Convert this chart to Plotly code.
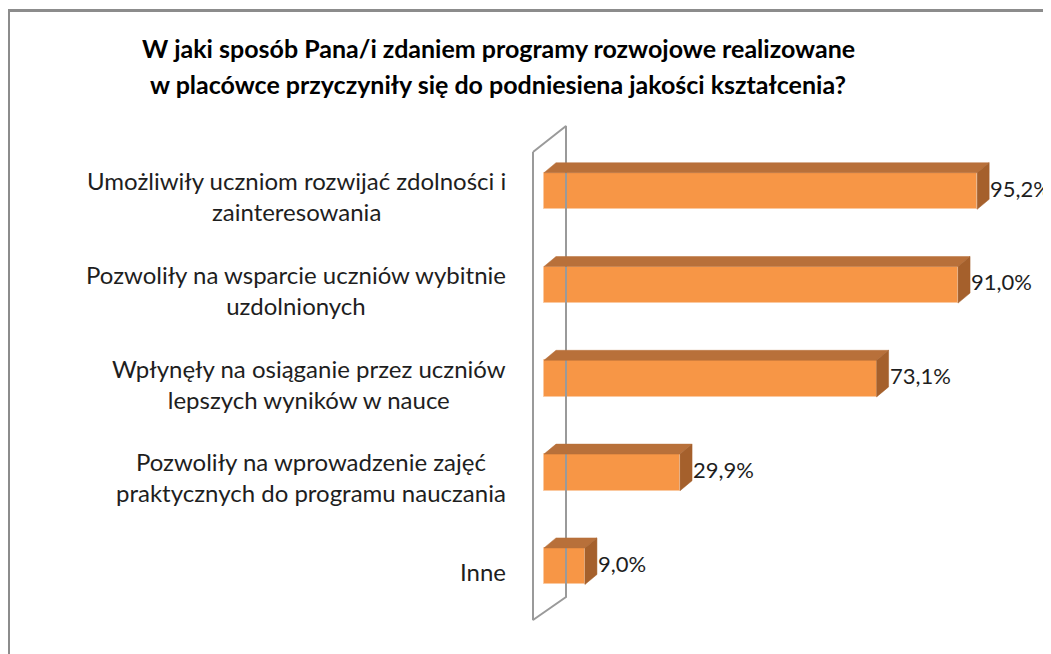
import plotly.graph_objects as go

categories = [
    "Umożliwiły uczniom rozwijać zdolności i<br>zainteresowania",
    "Pozwoliły na wsparcie uczniów wybitnie<br>uzdolnionych",
    "Wpłynęły na osiąganie przez uczniów<br>lepszych wyników w nauce",
    "Pozwoliły na wprowadzenie zajęć<br>praktycznych do programu nauczania",
    "Inne",
]
values = [95.2, 91.0, 73.1, 29.9, 9.0]
title_lines = [
    "W jaki sposób Pana/i zdaniem programy rozwojowe realizowane",
    "w placówce przyczyniły się do podniesiena jakości kształcenia?",
]

W, H = 1051, 654
OFF = 8  # page body margin of the browser
# plot area in screen pixels
SL, SR, ST, SB = 520, 1040, 100, 640
PL, PR, PT, PB = SL - OFF, SR - OFF, ST - OFF, SB - OFF
X0PX, XSCALE = 544, 4.55      # screen px of value 0, px per percent
Y0PX, YSTEP = 191, 93.8       # screen px of first category centre, px per category

def px_to_x(px):
    return (px - X0PX) / XSCALE

def py_to_y(py):
    return (py - Y0PX) / YSTEP

def px_to_paper(px):
    return (px - SL) / (SR - SL)

def py_to_paper(py):
    return 1 - (py - ST) / (SB - ST)

xr = [px_to_x(SL), px_to_x(SR)]
yr = [py_to_y(SB), py_to_y(ST)]

FRONT = "#F79646"
TOP = "#B8703A"
SIDE = "#A5602C"
half = 0.195
ddx = 12 / XSCALE
ddy = -10 / YSTEP

fig = go.Figure()

# back wall of the 3D chart
wx = [px_to_x(533), px_to_x(566), px_to_x(566), px_to_x(533), px_to_x(533)]
wy = [py_to_y(152), py_to_y(126), py_to_y(597), py_to_y(620), py_to_y(152)]
fig.add_trace(go.Scatter(x=wx, y=wy, mode="lines",
                         line=dict(color="#9a9a9a", width=2),
                         hoverinfo="skip", showlegend=False))

idx = list(range(len(values)))
for i, v in zip(idx, values):
    # top face
    fig.add_trace(go.Scatter(
        x=[0, v, v + ddx, ddx, 0],
        y=[i - half, i - half, i - half + ddy, i - half + ddy, i - half],
        fill="toself", fillcolor=TOP, mode="lines",
        line=dict(color=TOP, width=0.5), hoverinfo="skip", showlegend=False))
    # side face
    fig.add_trace(go.Scatter(
        x=[v, v + ddx, v + ddx, v, v],
        y=[i - half, i - half + ddy, i + half + ddy, i + half, i - half],
        fill="toself", fillcolor=SIDE, mode="lines",
        line=dict(color=SIDE, width=0.5), hoverinfo="skip", showlegend=False))

fig.add_trace(go.Bar(
    x=values, y=idx, orientation="h", width=2 * half,
    marker=dict(color=FRONT, line=dict(color="#FBC9A0", width=1)),
    hoverinfo="skip", showlegend=False))

FONT = "Lato"
annotations = []
for i, (c, v) in enumerate(zip(categories, values)):
    annotations.append(dict(
        x=px_to_paper(508), xref="paper", y=i, yref="y",
        text=c, showarrow=False, xanchor="right", yanchor="middle",
        align="center", yshift=-5,
        font=dict(family=FONT, size=24, color="#1e1e1e")))
    annotations.append(dict(
        x=v + ddx, y=i - 0.03, xref="x", yref="y",
        text=f"{v:.1f}".replace(".", ",") + "%", showarrow=False,
        xanchor="left", yanchor="middle", xshift=-1,
        font=dict(family=FONT, size=22, color="#1e1e1e")))

for line, ypx in zip(title_lines, [48, 84]):
    annotations.append(dict(
        x=px_to_paper(498), xref="paper", y=py_to_paper(ypx), yref="paper",
        text="<b>" + line + "</b>", showarrow=False,
        xanchor="center", yanchor="middle",
        font=dict(family=FONT, size=25, color="#000000")))

fig.update_layout(
    width=W, height=H,
    margin=dict(l=PL, r=W - PR, t=PT, b=H - PB),
    paper_bgcolor="white", plot_bgcolor="rgba(0,0,0,0)",
    xaxis=dict(range=xr, visible=False, fixedrange=True),
    yaxis=dict(range=yr, visible=False, fixedrange=True),
    annotations=annotations,
    shapes=[dict(type="rect", xref="paper", yref="paper",
                 x0=px_to_paper(8.5), x1=1.5, y0=-0.5, y1=py_to_paper(10.5),
                 line=dict(color="#8c8c8c", width=3), layer="below")],
    bargap=0,
)

fig.write_html("out.html")
